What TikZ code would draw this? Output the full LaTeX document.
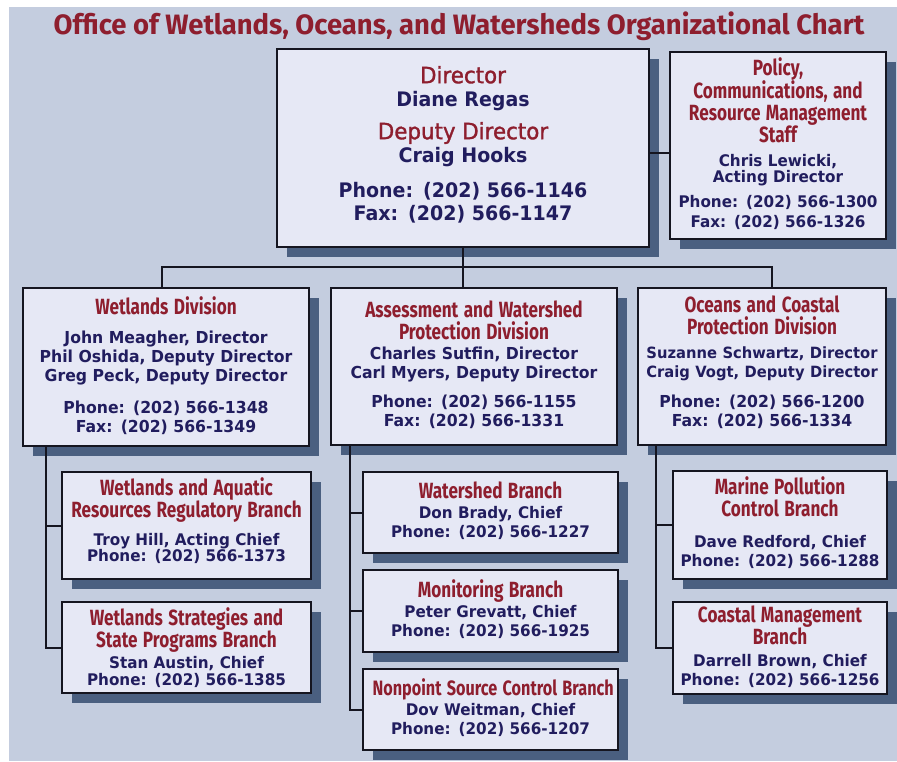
\documentclass[tikz,border=0pt]{standalone}
\usepackage{fontspec}
\usetikzlibrary{calc,shadows}
\setmainfont[FakeStretch=0.95]{DejaVu Sans}
\newfontfamily\dirfont[FakeStretch=0.95, UprightFeatures={FakeBold=1.4}]{DejaVu Sans}
\newfontfamily\hdfont[FakeStretch=0.78]{Fira Sans}
\newfontfamily\ttlfont[FakeStretch=0.98]{Fira Sans}

\definecolor{bgblue}{HTML}{C4CDDF}
\definecolor{boxfill}{HTML}{E6E8F5}
\definecolor{shadowblue}{HTML}{4A5F80}
\definecolor{hdred}{HTML}{8E1E2E}
\definecolor{navy}{HTML}{211D5E}
\definecolor{linecol}{HTML}{151520}

% red unit headings, body text and spacing between text blocks
\newcommand{\hdtxt}[1][22]{\hdfont\bfseries\color{hdred}\fontsize{#1}{22}\selectfont}
\newcommand{\dirhd}{\dirfont\mdseries\color{hdred}\fontsize{22.5}{23}\selectfont}
\newcommand{\bdtxt}[2]{\bfseries\fontsize{#1}{#2}\selectfont}
\newcommand{\vgap}[1]{\par\vspace{#1pt}}

\begin{document}
\begin{tikzpicture}[
    x=1pt, y=-1pt,
    every node/.style={inner sep=0pt},
    box/.style 2 args={draw=linecol, line width=2pt, fill=boxfill, text=navy,
        anchor=north west, align=center, text width=#1pt, minimum height=#2pt,
        general shadow={fill=shadowblue, shadow xshift=10pt, shadow yshift=-10pt}},
    dirbox/.style 2 args={box={#1}{#2}, font=\bdtxt{20}{23}},
    polbox/.style 2 args={box={#1}{#2}, font=\bdtxt{16}{16}},
    divbox/.style 2 args={box={#1}{#2}, font=\bdtxt{16.5}{19}},
    brbox/.style 2 args={box={#1}{#2}, font=\bdtxt{16}{19}},
    link/.style={draw=linecol, line width=2pt},
    title/.style={font=\ttlfont\bfseries\fontsize{28}{28}\selectfont, text=hdred},
]
% --- canvas ---------------------------------------------------------
\path[use as bounding box, fill=white] (0,0) rectangle (897,761);
\fill[bgblue] (9,7) rectangle (897,761);

\node[title] (ttl) at (459,26) {Office of Wetlands, Oceans, and Watersheds Organizational Chart};

% --- top level ------------------------------------------------------
\node[dirbox={372}{198}] (dir) at (276,48) {%
  {\dirhd Director}\\ Diane Regas\vgap{10}
  {\dirhd Deputy Director}\\ Craig Hooks\vgap{12}
  Phone: (202) 566-1146\\ Fax: (202) 566-1147\vgap{7}};
\node[polbox={216}{187}] (pol) at (669,51) {%
  {\hdtxt Policy,\\ Communications, and\\ Resource Management\\ Staff\par}\vgap{8}
  Chris Lewicki,\\ Acting Director\vgap{5}
  {\fontsize{16}{20}\selectfont Phone: (202) 566-1300\\ Fax: (202) 566-1326\par}\vgap{4}};

% --- divisions ------------------------------------------------------
\node[divbox={286}{158}] (wet) at (22,287) {%
  {\hdtxt Wetlands Division\par}\vgap{10}
  John Meagher, Director\\ Phil Oshida, Deputy Director\\ Greg Peck, Deputy Director\vgap{13}
  Phone: (202) 566-1348\\ Fax: (202) 566-1349\vgap{3}};
\node[divbox={286}{157}] (awp) at (330,287) {%
  {\hdtxt Assessment and Watershed\\ Protection Division\par}\vgap{1}
  Charles Sutfin, Director\\ Carl Myers, Deputy Director\vgap{10}
  Phone: (202) 566-1155\\ Fax: (202) 566-1331\vgap{3}};
\node[divbox={248}{157}] (ocp) at (637,287) {%
  {\hdtxt Oceans and Coastal\\ Protection Division\par}\vgap{5}
  {\fontsize{15.5}{19}\selectfont Suzanne Schwartz, Director\\ Craig Vogt, Deputy Director\par}\vgap{11}
  Phone: (202) 566-1200\\ Fax: (202) 566-1334\vgap{8}};

% --- branches under each division -----------------------------------
\node[brbox={249}{107}] (war) at (61,471) {%
  {\hdtxt Wetlands and Aquatic\\ Resources Regulatory Branch\par}\vgap{10}
  {\fontsize{16}{16}\selectfont Troy Hill, Acting Chief\\ Phone: (202) 566-1373\par}\vgap{9}};
\node[brbox={249}{91}] (wsp) at (61,601) {%
  {\hdtxt Wetlands Strategies and\\ State Programs Branch\par}\vgap{3}
  {\fontsize{16}{17}\selectfont Stan Austin, Chief\\ Phone: (202) 566-1385\par}};
\node[brbox={255}{81}] (wsb) at (362,471) {%
  {\hdtxt Watershed Branch\par}\vgap{1}
  Don Brady, Chief\\ Phone: (202) 566-1227\vgap{4}};
\node[brbox={255}{82}] (mon) at (362,569) {%
  {\hdtxt Monitoring Branch\par}\vgap{1}
  Peter Grevatt, Chief\\ Phone: (202) 566-1925\vgap{4}};
\node[brbox={255}{81}] (nps) at (362,668) {%
  {\hdtxt[20.8] Nonpoint Source Control Branch\par}\vgap{1}
  Dov Weitman, Chief\\ Phone: (202) 566-1207\vgap{3}};
\node[brbox={214}{108}] (mpc) at (672,470) {%
  {\hdtxt Marine Pollution\\ Control Branch\par}\vgap{12}
  Dave Redford, Chief\\ Phone: (202) 566-1288\vgap{4}};
\node[brbox={214}{92}] (cmb) at (672,601) {%
  {\hdtxt Coastal Management\\ Branch\par}\vgap{3}
  Darrell Brown, Chief\\ Phone: (202) 566-1256\vgap{3}};

% --- director links -------------------------------------------------
\coordinate (polin) at ($(pol.north west)!0.54!(pol.south west)$);
\draw[link] (polin -| dir.east) -- (polin);
\coordinate (dropW) at (162,267);
\coordinate (dropO) at (772,267);
\draw[link] (dir.south) -- (dir.south |- awp.north);
\draw[link] (dropW |- wet.north) -- (dropW) -- (dropO) -- (dropO |- ocp.north);

% --- branch spines --------------------------------------------------
\coordinate (spW) at (46,0);
\coordinate (spA) at (350,0);
\coordinate (spO) at (656,0);
\draw[link] (wet.south -| spW) -- (wsp.west -| spW) -- (wsp.west);
\draw[link] (war.west -| spW) -- (war.west);
\draw[link] (awp.south -| spA) -- (nps.west -| spA) -- (nps.west);
\draw[link] (wsb.west -| spA) -- (wsb.west);
\draw[link] (mon.west -| spA) -- (mon.west);
\draw[link] (ocp.south -| spO) -- (cmb.west -| spO) -- (cmb.west);
\draw[link] (mpc.west -| spO) -- (mpc.west);
\end{tikzpicture}
\end{document}
